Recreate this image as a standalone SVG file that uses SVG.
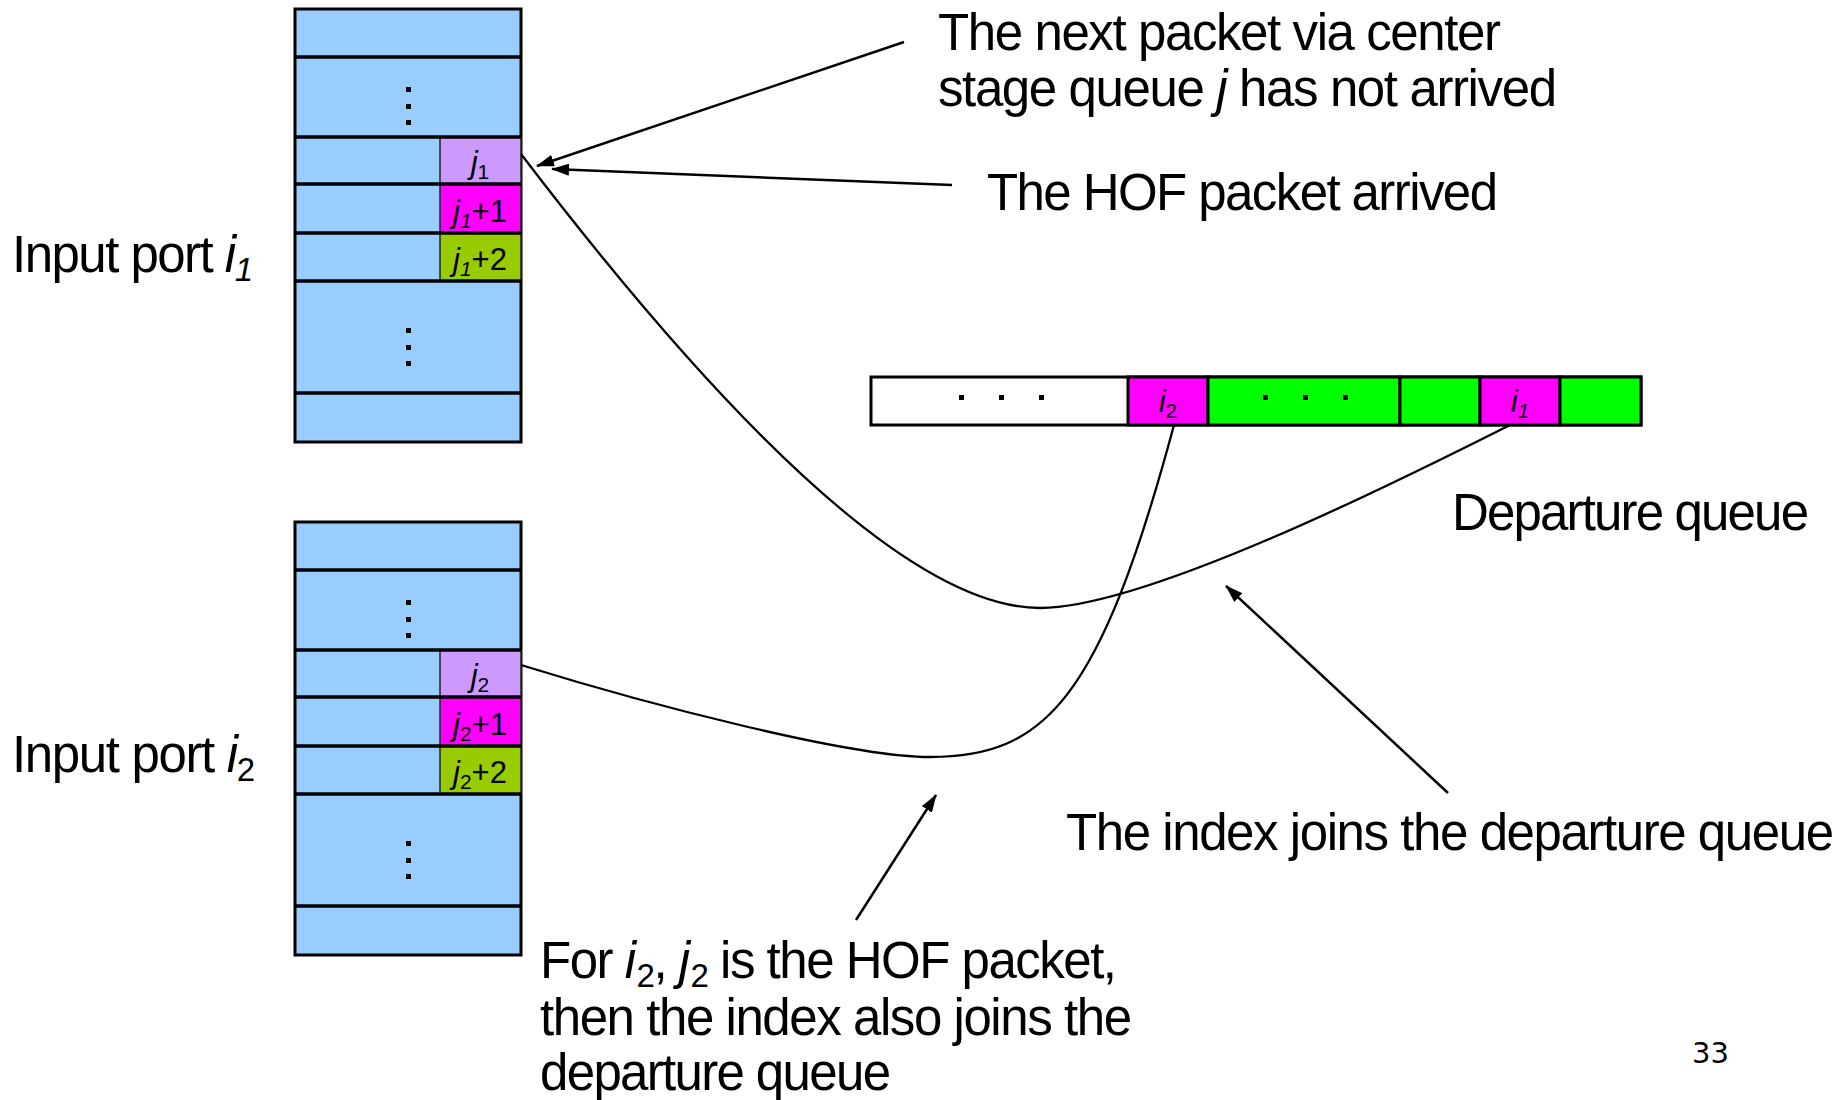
<svg xmlns="http://www.w3.org/2000/svg" width="1843" height="1100" viewBox="0 0 1843 1100">
  <style>
    .t { font-family: "Liberation Sans", Arial, sans-serif; font-size: 51px; fill: #000; }
    .c { font-family: "Liberation Sans", Arial, sans-serif; font-size: 31px; fill: #000; text-anchor: middle; }
    .it { font-style: italic; }
    .buf { fill: #99CCFF; stroke: #000; stroke-width: 3; }
    .row { stroke: #000; stroke-width: 3.5; }
    .cell { stroke: #222; stroke-width: 1.5; }
    .hof { fill: #CC99FF; }
    .mag { fill: #FF00FF; }
    .olv { fill: #99CC00; }
    .grn { fill: #00FF00; }
    .q { stroke: #000; stroke-width: 3; }
    .dot { fill: #000; }
    .wire { fill: none; stroke: #000; stroke-width: 2.3; }
    .arw { fill: none; stroke: #000; stroke-width: 2.5; marker-end: url(#head); }
    .pg { font-family: "DejaVu Sans", sans-serif; font-size: 29px; fill: #000; }
  </style>
  <defs>
    <marker id="head" viewBox="0 0 18 12" refX="17" refY="6" markerWidth="18" markerHeight="12" markerUnits="userSpaceOnUse" orient="auto">
      <path d="M0,0 L18,6 L0,12 z" fill="#000"/>
    </marker>
    <!-- one input-port buffer column, drawn at the origin of port i1 -->
    <g id="buffer">
      <rect class="buf" x="295" y="9" width="226" height="433"/>
      <rect class="cell hof" x="440" y="137" width="81" height="47"/>
      <rect class="cell mag" x="440" y="184" width="81" height="49"/>
      <rect class="cell olv" x="440" y="233" width="81" height="48"/>
      <g class="row">
        <line x1="295" y1="57" x2="521" y2="57"/>
        <line x1="295" y1="137" x2="521" y2="137"/>
        <line x1="295" y1="184" x2="521" y2="184"/>
        <line x1="295" y1="233" x2="521" y2="233"/>
        <line x1="295" y1="281" x2="521" y2="281"/>
        <line x1="295" y1="393" x2="521" y2="393"/>
      </g>
      <rect class="dot" x="406" y="87" width="5" height="5"/>
      <rect class="dot" x="406" y="104" width="5" height="5"/>
      <rect class="dot" x="406" y="120" width="5" height="5"/>
      <rect class="dot" x="406" y="328" width="5" height="5"/>
      <rect class="dot" x="406" y="345" width="5" height="5"/>
      <rect class="dot" x="406" y="361" width="5" height="5"/>
    </g>
  </defs>

  <rect width="1843" height="1100" fill="#fff"/>

  <!-- input port i1 -->
  <g id="port-i1">
    <use href="#buffer"/>
    <text class="c" x="480" y="173"><tspan class="it">j</tspan><tspan font-size="21" dy="6">1</tspan></text>
    <text class="c" x="480" y="222"><tspan class="it">j</tspan><tspan class="it" font-size="21" dy="6">1</tspan><tspan dy="-6">+1</tspan></text>
    <text class="c" x="480" y="270"><tspan class="it">j</tspan><tspan class="it" font-size="21" dy="6">1</tspan><tspan dy="-6">+2</tspan></text>
    <text class="t" x="12" y="272" textLength="241">Input port <tspan class="it">i</tspan><tspan class="it" font-size="33" dy="9">1</tspan></text>
  </g>

  <!-- input port i2 -->
  <g id="port-i2">
    <use href="#buffer" transform="translate(0,513)"/>
    <text class="c" x="480" y="686"><tspan class="it">j</tspan><tspan font-size="21" dy="6">2</tspan></text>
    <text class="c" x="480" y="735"><tspan class="it">j</tspan><tspan font-size="21" dy="6">2</tspan><tspan dy="-6">+1</tspan></text>
    <text class="c" x="480" y="783"><tspan class="it">j</tspan><tspan font-size="21" dy="6">2</tspan><tspan dy="-6">+2</tspan></text>
    <text class="t" x="12" y="772" textLength="243">Input port <tspan class="it">i</tspan><tspan font-size="33" dy="9">2</tspan></text>
  </g>

  <!-- departure queue -->
  <g id="departure-queue">
    <rect x="871" y="377" width="770" height="48" fill="#fff" class="q"/>
    <rect x="1128" y="377" width="80" height="48" class="q mag"/>
    <rect x="1208" y="377" width="192" height="48" class="q grn"/>
    <rect x="1400" y="377" width="80" height="48" class="q grn"/>
    <rect x="1480" y="377" width="80" height="48" class="q mag"/>
    <rect x="1560" y="377" width="81" height="48" class="q grn"/>
    <rect class="dot" x="959" y="395" width="5" height="5"/>
    <rect class="dot" x="999" y="395" width="5" height="5"/>
    <rect class="dot" x="1039" y="395" width="5" height="5"/>
    <rect class="dot" x="1263" y="395" width="5" height="5"/>
    <rect class="dot" x="1303" y="395" width="5" height="5"/>
    <rect class="dot" x="1343" y="395" width="5" height="5"/>
    <text class="c" x="1168" y="412"><tspan class="it">i</tspan><tspan font-size="21" dy="6">2</tspan></text>
    <text class="c" x="1520" y="412"><tspan class="it">i</tspan><tspan class="it" font-size="21" dy="6">1</tspan></text>
    <text class="t" x="1452" y="530" textLength="357">Departure queue</text>
  </g>

  <!-- annotations -->
  <g id="note-next">
    <text class="t" x="938" y="50" textLength="563">The next packet via center</text>
    <text class="t" x="938" y="106" textLength="619">stage queue <tspan class="it">j</tspan> has not arrived</text>
  </g>
  <g id="note-hof">
    <text class="t" x="987" y="210" textLength="511">The HOF packet arrived</text>
  </g>
  <g id="note-join">
    <text class="t" x="1066" y="850" textLength="768">The index joins the departure queue</text>
  </g>
  <g id="note-i2">
    <text class="t" x="540" y="978" textLength="577">For <tspan class="it">i</tspan><tspan font-size="33" dx="2" dy="9">2</tspan><tspan dy="-9">, </tspan><tspan class="it">j</tspan><tspan font-size="33" dx="2" dy="9">2</tspan><tspan dy="-9"> is the HOF packet,</tspan></text>
    <text class="t" x="540" y="1035" textLength="592">then the index also joins the</text>
    <text class="t" x="540" y="1090" textLength="351">departure queue</text>
  </g>
  <text class="pg" x="1692" y="1063">33</text>

  <!-- connectors -->
  <g id="connectors">
    <path class="wire" d="M521,154 C640,310 880,608 1040,608 C1150,608 1420,470 1510,425"/>
    <path class="wire" d="M521,665 C650,705 850,757 930,757 C1045,757 1100,700 1174,425"/>
    <line class="arw" x1="904" y1="42" x2="537" y2="166"/>
    <line class="arw" x1="952" y1="185" x2="552" y2="169"/>
    <line class="arw" x1="1448" y1="793" x2="1226" y2="586"/>
    <line class="arw" x1="856" y1="920" x2="936" y2="795"/>
  </g>
</svg>
